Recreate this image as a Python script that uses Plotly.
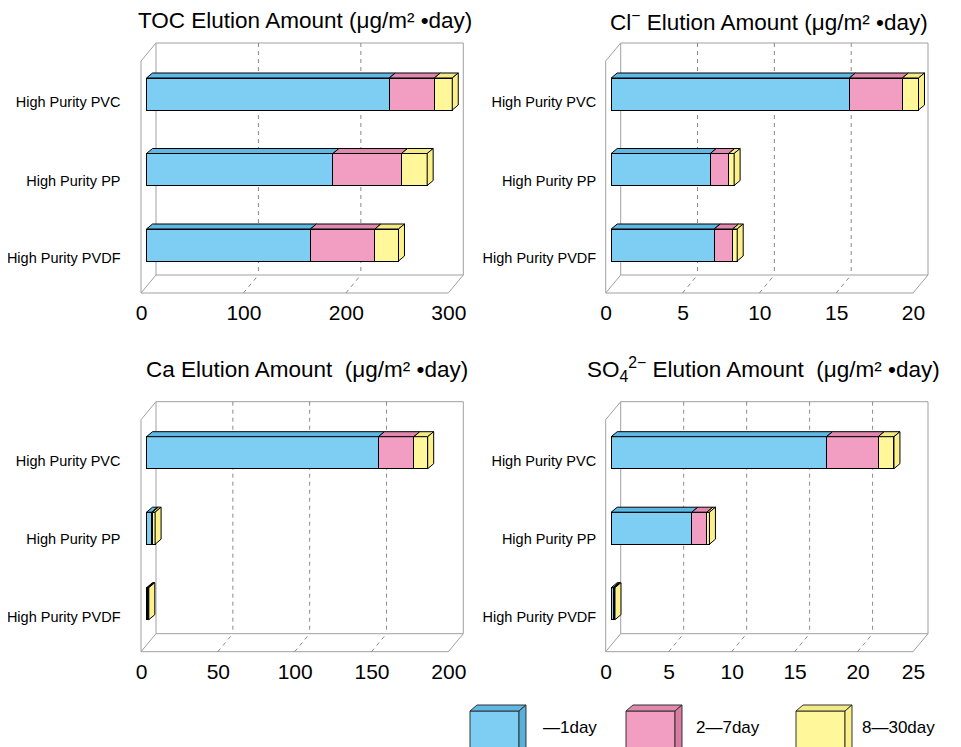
import plotly.graph_objects as go

W, H = 961, 747
OX, OY = 8, 8  # page body margin compensation (px)

# ---------------- data ----------------
categories = ["High Purity PVC", "High Purity PP", "High Purity PVDF"]
series_names = ["—1day", "2—7day", "8—30day"]

toc_1day = [237, 182, 160]
toc_2_7day = [44, 67, 63]
toc_8_30day = [17.5, 25, 23]

cl_1day = [15.5, 6.45, 6.7]
cl_2_7day = [3.45, 1.2, 1.2]
cl_8_30day = [1.05, 0.35, 0.3]

ca_1day = [151, 3.4, 0.6]
ca_2_7day = [23, 0.4, 0.3]
ca_8_30day = [9, 1.8, 0.6]

so4_1day = [17.1, 6.4, 0.15]
so4_2_7day = [4.1, 1.2, 0.05]
so4_8_30day = [1.25, 0.2, 0.1]

toc_ticks = [0, 100, 200, 300]
cl_ticks = [0, 5, 10, 15, 20]
ca_ticks = [0, 50, 100, 150, 200]
so4_ticks = [0, 5, 10, 15, 20, 24.4]
so4_ticktext = ["0", "5", "10", "15", "20", "25"]

# ---------------- style ----------------
FRONT = ["#7ecef4", "#f19ec2", "#fff799"]
TOPC = ["#5fb8e4", "#e088ae", "#f3e985"]
SIDE = ["#58b0dc", "#d97ba2", "#fbf08a"]
WALL = "#a0a0a0"
GRID = "#8a8a8a"
FONT = "Liberation Sans, Arial, Helvetica, sans-serif"

BOX_W = 307.3   # back-wall width in px
DX, DY = 15, 18  # floor depth offset in px
BDX, BDY = 6, 5  # bar depth offset in px
LABEL_DY = [8, 11, 13]  # category label offset below bar centre (px)


def PXF(px):
    return (px - OX) / W


def PYF(py):
    return 1 - (py - OY) / H


panels = [
    dict(title="TOC Elution Amount (μg/m² •day)", tcx=305, tcy=21,
         series=[toc_1day, toc_2_7day, toc_8_30day], ticks=toc_ticks,
         ticktext=[str(t) for t in toc_ticks], xmax=300, BL=156, top=43, standoff=13),
    dict(title="Cl<sup>−</sup> Elution Amount (μg/m² •day)", tcx=769, tcy=21,
         series=[cl_1day, cl_2_7day, cl_8_30day], ticks=cl_ticks,
         ticktext=[str(t) for t in cl_ticks], xmax=20, BL=620.7, top=43, standoff=2),
    dict(title="Ca Elution Amount  (μg/m² •day)", tcx=307, tcy=369,
         series=[ca_1day, ca_2_7day, ca_8_30day], ticks=ca_ticks,
         ticktext=[str(t) for t in ca_ticks], xmax=200, BL=156, top=401.7, standoff=13),
    dict(title="SO<sub>4</sub><sup>2−</sup> Elution Amount  (μg/m² •day)", tcx=763, tcy=369,
         series=[so4_1day, so4_2_7day, so4_8_30day], ticks=so4_ticks,
         ticktext=so4_ticktext, xmax=24.4, BL=620.7, top=401.7, standoff=2),
]

fig = go.Figure()
shapes = []
annotations = []
layout_axes = {}

for k, p in enumerate(panels):
    ax = "" if k == 0 else str(k + 1)
    xref, yref = "x" + ax, "y" + ax
    BL, top = p["BL"], p["top"]
    back_floor = top + 232
    front_floor = back_floor + DY
    b0 = BL - 9.5
    s = BOX_W / p["xmax"]

    def X(px, b0=b0, s=s):
        return (px - b0) / s

    centers = [front_floor - 199 + 75.5 * i for i in range(len(categories))]
    label_y = [c + d for c, d in zip(centers, LABEL_DY)]

    left_px, right_px = b0 - 12, BL + BOX_W + 4
    y_bot, y_top = front_floor + 3, top - 5
    layout_axes["xaxis" + ax] = dict(
        domain=[PXF(left_px), PXF(right_px)], range=[X(left_px), X(right_px)],
        anchor=yref, tickvals=p["ticks"], ticktext=p["ticktext"], showgrid=False,
        zeroline=False, showline=False, ticks="", ticklabelshift=-5, automargin=False,
        ticklabelstandoff=2, tickfont=dict(family=FONT, size=21, color="black"),
        fixedrange=True)
    layout_axes["yaxis" + ax] = dict(
        domain=[PYF(y_bot), PYF(y_top)],
        range=[y_bot, y_top], anchor=xref, tickvals=label_y,
        ticktext=categories, showgrid=False, zeroline=False, showline=False,
        ticks="", ticklabelstandoff=p["standoff"], automargin=False,
        tickfont=dict(family=FONT, size=14.5, color="black"), fixedrange=True)

    # ---- walls ----
    def line(x0, y0, x1, y1, color=WALL, dash="solid", width=1, xref=xref, yref=yref, X=X):
        shapes.append(dict(type="line", xref=xref, yref=yref, x0=X(x0), y0=y0,
                           x1=X(x1), y1=y1, layer="below",
                           line=dict(color=color, width=width, dash=dash)))

    BR = BL + BOX_W
    FL = BL - DX
    line(BL, top, BR, top)
    line(BL, top, BL, back_floor)
    line(BR, top, BR, back_floor)
    line(BL, back_floor, BR, back_floor)
    line(FL, top + DY, FL, front_floor)
    line(FL, top + DY, BL, top)
    line(FL, front_floor, BL, back_floor)
    line(FL, front_floor, FL + BOX_W, front_floor)
    line(FL + BOX_W, front_floor, BR, back_floor)
    for t in p["ticks"][1:-1]:
        line(BL + s * t, top, BL + s * t, back_floor, color=GRID, dash="4px,4px")
        line(FL + s * t, front_floor, BL + s * t, back_floor, color=GRID, dash="4px,4px")

    # ---- front faces (stacked bars) ----
    for j, vals in enumerate(p["series"]):
        fig.add_trace(go.Bar(
            x=vals, y=centers, orientation="h", width=32, name=series_names[j],
            marker=dict(color=FRONT[j], line=dict(color="black", width=1)),
            xaxis=xref, yaxis=yref, showlegend=False, hoverinfo="x+name"))

    # ---- top faces & side face ----
    ddx = BDX / s
    cum = [0.0] * len(categories)
    for j, vals in enumerate(p["series"]):
        xs, ys = [], []
        for i, v in enumerate(vals):
            c0, c1 = cum[i], cum[i] + v
            yt = centers[i] - 16
            xs += [c0, c1, c1 + ddx, c0 + ddx, c0, None]
            ys += [yt, yt, yt - BDY, yt - BDY, yt, None]
            cum[i] = c1
        fig.add_trace(go.Scatter(
            x=xs, y=ys, mode="lines", fill="toself", fillcolor=TOPC[j],
            line=dict(color="black", width=1), xaxis=xref, yaxis=yref,
            showlegend=False, hoverinfo="skip"))
    xs, ys = [], []
    for i, e in enumerate(cum):
        yt, yb = centers[i] - 16, centers[i] + 16
        xs += [e, e + ddx, e + ddx, e, e, None]
        ys += [yt, yt - BDY, yb - BDY, yb, yt, None]
    fig.add_trace(go.Scatter(
        x=xs, y=ys, mode="lines", fill="toself", fillcolor=SIDE[2],
        line=dict(color="black", width=1), xaxis=xref, yaxis=yref,
        showlegend=False, hoverinfo="skip"))

    annotations.append(dict(text=p["title"], x=PXF(p["tcx"]), y=PYF(p["tcy"]),
                            xref="paper", yref="paper", showarrow=False,
                            xanchor="center", yanchor="middle",
                            font=dict(family=FONT, size=22.5, color="black")))

# ---------------- legend (3D keys) ----------------
leg_x = [470, 626, 796]
leg_text_x = [541, 694, 860]


def P(px, py):
    return f"{PXF(px):.5f},{PYF(py):.5f}"


for j in range(3):
    x0, x1 = leg_x[j], leg_x[j] + 49
    yt, yb = 711, 770
    shapes.append(dict(type="rect", xref="paper", yref="paper", x0=PXF(x0), x1=PXF(x1),
                       y0=PYF(yb), y1=PYF(yt), fillcolor=FRONT[j],
                       line=dict(color="#333333", width=1)))
    shapes.append(dict(type="path", xref="paper", yref="paper",
                       path=f"M{P(x0, yt)} L{P(x1, yt)} L{P(x1 + 7, yt - 6)} L{P(x0 + 7, yt - 6)} Z",
                       fillcolor=TOPC[j], line=dict(color="#333333", width=1)))
    shapes.append(dict(type="path", xref="paper", yref="paper",
                       path=f"M{P(x1, yt)} L{P(x1 + 7, yt - 6)} L{P(x1 + 7, yb - 6)} L{P(x1, yb)} Z",
                       fillcolor=SIDE[j], line=dict(color="#333333", width=1)))
    annotations.append(dict(text=series_names[j], x=PXF(leg_text_x[j]), y=PYF(727),
                            xref="paper", yref="paper", showarrow=False,
                            xanchor="left", yanchor="middle",
                            font=dict(family=FONT, size=17, color="black")))

fig.update_layout(**layout_axes)
fig.update_layout(
    width=W, height=H, autosize=False, barmode="stack",
    margin=dict(l=0, r=0, t=0, b=0, pad=0, autoexpand=False), paper_bgcolor="white",
    plot_bgcolor="rgba(0,0,0,0)",
    shapes=shapes, annotations=annotations, showlegend=False,
    font=dict(family=FONT, color="black"))

fig.write_html("out.html")
